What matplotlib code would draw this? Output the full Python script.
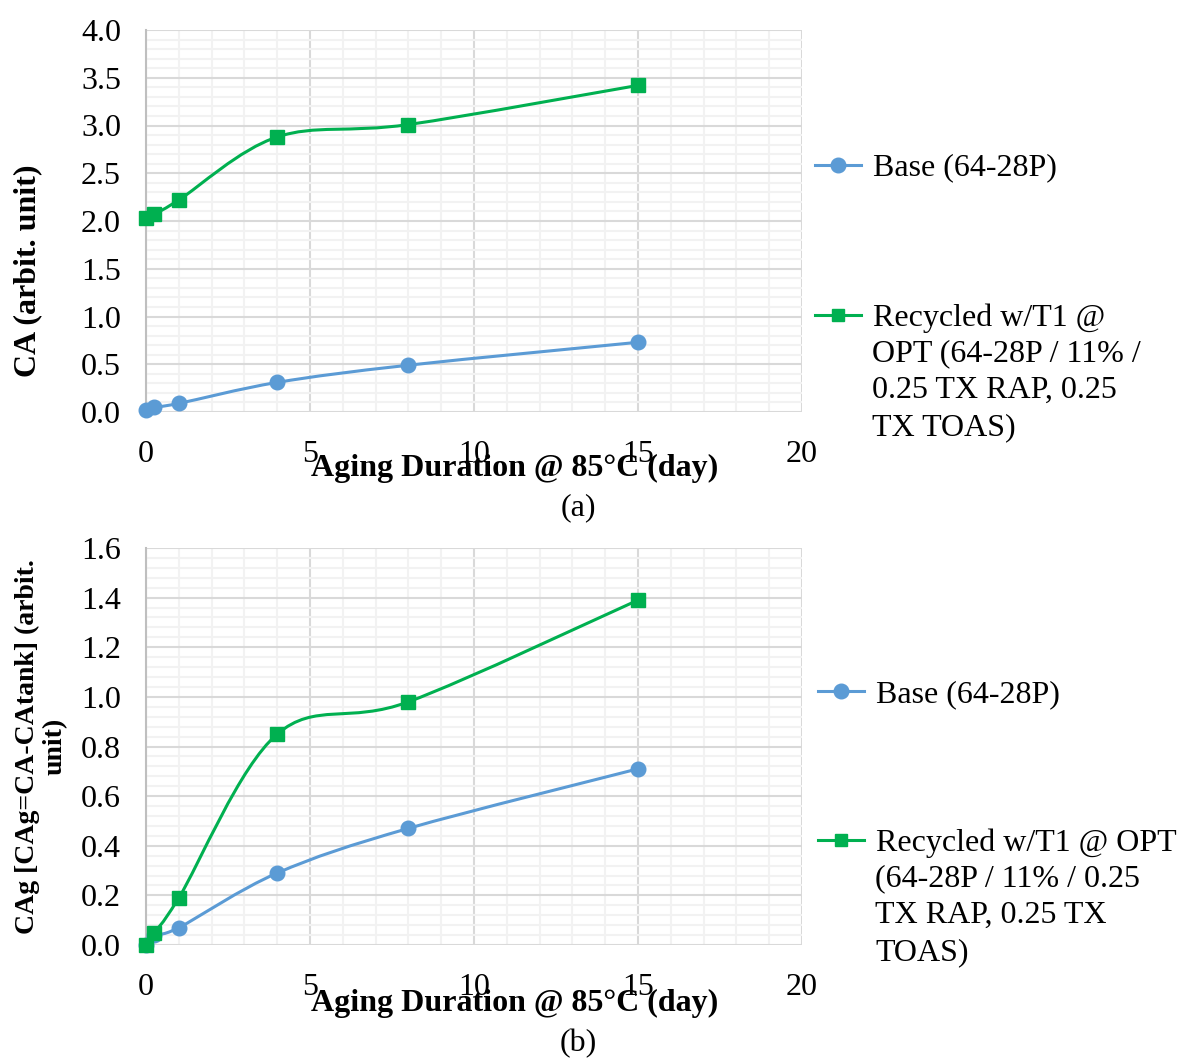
import matplotlib
matplotlib.use("Agg")
import matplotlib.pyplot as plt
from matplotlib.path import Path
from matplotlib.patches import PathPatch
from matplotlib.ticker import MultipleLocator
import numpy as np

plt.rcParams['font.family'] = ['Liberation Serif', 'DejaVu Serif']

days = [0, 0.25, 1, 4, 8, 15]
ca_base = [0.02, 0.05, 0.09, 0.31, 0.49, 0.73]
ca_recycled = [2.03, 2.07, 2.22, 2.88, 3.01, 3.42]
cag_base = [0.0, 0.04, 0.07, 0.29, 0.47, 0.71]
cag_recycled = [0.0, 0.05, 0.19, 0.85, 0.98, 1.39]

label_base = "Base (64-28P)"
label_rec_a = ["Recycled w/T1 @", "OPT (64-28P / 11% /", "0.25 TX RAP, 0.25", "TX TOAS)"]
label_rec_b = ["Recycled w/T1 @ OPT", "(64-28P / 11% / 0.25", "TX RAP, 0.25 TX", "TOAS)"]

BLUE = '#5B9BD5'
GREEN = '#00B050'
FS = 23


def smooth_path(x, y):
    # excel-like smoothed line: cubic bezier through the points
    x = np.asarray(x, float)
    y = np.asarray(y, float)
    verts = [(x[0], y[0])]
    codes = [Path.MOVETO]
    n = len(x)
    for i in range(n - 1):
        x0, y0 = (x[i - 1], y[i - 1]) if i > 0 else (x[i], y[i])
        x3, y3 = (x[i + 2], y[i + 2]) if i + 2 < n else (x[i + 1], y[i + 1])
        c1 = (x[i] + (x[i + 1] - x0) / 6, y[i] + (y[i + 1] - y0) / 6)
        c2 = (x[i + 1] - (x3 - x[i]) / 6, y[i + 1] - (y3 - y[i]) / 6)
        verts += [c1, c2, (x[i + 1], y[i + 1])]
        codes += [Path.CURVE4] * 3
    return Path(verts, codes)


def draw_panel(ax, yb, rec, ymax, major, ylabel, ylab_fs, ylab_pos, rec_lines, leg_x, base_y, rec_y, tag, tag_y):
    ax.set_xlim(0, 20)
    ax.set_ylim(0, ymax)
    ax.xaxis.set_major_locator(MultipleLocator(5))
    ax.xaxis.set_minor_locator(MultipleLocator(1))
    ax.yaxis.set_major_locator(MultipleLocator(major))
    ax.yaxis.set_minor_locator(MultipleLocator(major / 5))
    ax.yaxis.set_major_formatter(lambda v, p: f"{v:.1f}")
    ax.grid(which='minor', color='#F2F2F2', lw=1.5)
    ax.grid(which='major', color='#D9D9D9', lw=1.5)
    ax.set_axisbelow(True)
    for s in ax.spines.values():
        s.set_visible(False)
    ax.spines['left'].set_visible(True)
    ax.spines['left'].set_color('#BFBFBF')
    ax.spines['left'].set_linewidth(1.5)
    ax.tick_params(which='both', length=0, labelsize=FS)
    ax.tick_params(axis='y', pad=18)
    ax.tick_params(axis='x', pad=20)

    for yv, col, mk in [(yb, BLUE, 'o'), (rec, GREEN, 's')]:
        ax.add_patch(PathPatch(smooth_path(days, yv), fill=False, edgecolor=col, lw=2.2, zorder=3))
        ax.plot(days, yv, ls='none', marker=mk, ms=10.5 if mk == 'o' else 10, color=col, zorder=4, clip_on=False)

    ax.set_ylabel(ylabel, fontsize=ylab_fs, fontweight='bold', linespacing=1.15, va='center')
    ax.yaxis.set_label_coords(*ylab_pos)
    ax.text(0.5625, -0.148, "Aging Duration @ 85°C (day)", transform=ax.transAxes,
            ha='center', va='center', fontsize=FS, fontweight='bold')
    fig.text(578 / 1178, 1 - tag_y / 1059, tag, ha='center', va='center', fontsize=FS)

    h_base = plt.Line2D([], [], color=BLUE, lw=2.2, marker='o', ms=10.5)
    h_rec = plt.Line2D([], [], color=GREEN, lw=2.2, marker='s', ms=9)
    for h, lab, ly in [(h_base, label_base, base_y), (h_rec, rec_lines[0], rec_y)]:
        fig.legend([h], [lab], loc='center left', bbox_to_anchor=(leg_x / 1178, 1 - ly / 1059),
                   frameon=False, fontsize=FS, handlelength=1.45, handletextpad=0.38,
                   borderpad=0, borderaxespad=0)
    fig.text((leg_x + 57) / 1178, 1 - (rec_y + 21) / 1059, "\n".join(rec_lines[1:]),
             ha='left', va='top', fontsize=FS, linespacing=1.37)


fig = plt.figure(figsize=(11.78, 10.59), dpi=100)
ax1 = fig.add_axes([146 / 1178, 1 - 412 / 1059, 656 / 1178, 382 / 1059])
ax2 = fig.add_axes([146 / 1178, 1 - 945 / 1059, 656 / 1178, 397 / 1059])

draw_panel(ax1, ca_base, ca_recycled, 4.0, 0.5, "CA (arbit. unit)", FS, (-0.18, 0.369), label_rec_a,
           815, 168, 318, "(a)", 508)
draw_panel(ax2, cag_base, cag_recycled, 1.6, 0.2, "CAg [CAg=CA-CAtank] (arbit.\nunit)", 20, (-0.16, 0.5),
           label_rec_b, 818, 695, 843, "(b)", 1044)

plt.savefig("out.png", dpi=100)
